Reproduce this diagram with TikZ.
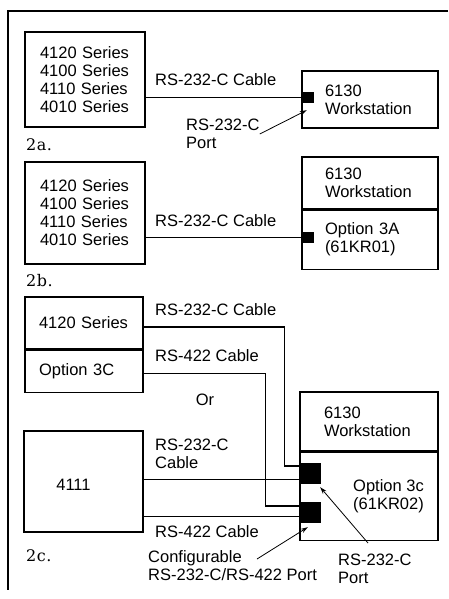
\documentclass[tikz,border=0pt]{standalone}
\usepackage{fontspec}
\newfontfamily\helv{Liberation Sans}
\newfontfamily\figfont[LetterSpace=3]{DejaVu Serif}
\usetikzlibrary{arrows.meta}
\tikzset{
  unitbox/.style={
    draw,
    rectangle,
    inner sep=0pt,
    line width=1.1pt,
    text width=90pt,
    align=left,
    font=\helv\fontsize{16.5}{18}\selectfont,
  },
  port/.style={
    fill=black,
    rectangle,
    inner sep=0pt,
  },
  cable/.style={line width=1.1pt},
  callout/.style={line width=0.8pt, -{Stealth[length=7pt,width=4.5pt]}},
  lbl/.style={
    inner sep=0pt,
    align=left,
    anchor=west,
    font=\helv\fontsize{16.5}{18}\selectfont,
  },
  figlbl/.style={inner sep=0pt, anchor=west, font=\figfont\fontsize{16}{18}\selectfont},
}
\begin{document}
\begin{tikzpicture}[x=1pt,y=-1pt]
  \useasboundingbox (0,0) rectangle (448,599);
  \draw[line width=1.1pt] (448,11) -- (8,11) -- (8,590);

  \node[unitbox, minimum width=120pt, minimum height=95pt] (seriesa) at (85,79.5) {4120 Series\\4100 Series\\4110 Series\\4010 Series};
  \node[unitbox, minimum width=136pt, minimum height=57pt] (wsa) at (370,99.5) {6130\\Workstation};
  \node[port, minimum size=11pt] (porta) at (308.5,97.5) {};
  \draw[cable] (seriesa.east |- porta.west) -- (porta.west);
  \node[lbl] (cablea) at (155,80) {RS-232-C Cable};
  \node[lbl] (porttexta) at (186,134) {RS-232-C\\Port};
  \draw[callout] (porttexta.east) -- ([xshift=4pt,yshift=-7pt]porta.south west);
  \node[figlbl] (figa) at (26,145) {2a.};

  \node[unitbox, minimum width=120pt, minimum height=102pt] (seriesb) at (85,213) {4120 Series\\4100 Series\\4110 Series\\4010 Series};
  \node[unitbox, minimum width=136pt, minimum height=52pt] (wsb) at (370,183) {6130\\Workstation};
  \node[unitbox, minimum width=136pt, minimum height=59pt, anchor=north] (optb) at (wsb.south) {Option 3A\\(61KR01)};
  \node[port, minimum size=11pt] (portb) at (308.5,237.5) {};
  \draw[cable] (seriesb.east |- portb.west) -- (portb.west);
  \node[lbl] (cableb) at (155,221) {RS-232-C Cable};
  \node[figlbl] (figb) at (26,281) {2b.};

  \node[unitbox, minimum width=118pt, minimum height=52pt] (seriesc) at (84,323) {4120 Series};
  \node[unitbox, minimum width=118pt, minimum height=42pt, anchor=north] (optc) at (seriesc.south) {Option 3C};
  \node[lbl, anchor=center] (orc) at (205,400) {Or};
  \node[unitbox, minimum width=119pt, minimum height=101pt] (unitc) at (83.5,481.5) {};
  \node[lbl, anchor=center] (unitctext) at (73.5,485) {4111};
  \node[unitbox, minimum width=138pt, minimum height=59pt] (wsc) at (369,421.5) {6130\\Workstation};
  \node[unitbox, minimum width=138pt, minimum height=88pt, anchor=north] (optc3) at (wsc.south) {};
  \node[lbl] (optc3text) at (353,496) {Option 3c\\(61KR02)};
  \node[port, minimum size=21pt] (portc1) at (310.5,473.5) {};
  \node[port, minimum size=21pt] (portc2) at (310.5,512.5) {};
  \draw[cable] ([yshift=-4pt]seriesc.east) -| ([xshift=-15pt,yshift=7.5pt]portc1.west) -- ([yshift=7.5pt]portc1.west);
  \draw[cable] ([yshift=-2pt]optc.east) -| ([xshift=-34pt,yshift=6.5pt]portc2.west) -- ([yshift=6.5pt]portc2.west);
  \draw[cable] ([yshift=-6pt]portc1.west) -- ([yshift=-6pt]portc1.west -| unitc.east);
  \draw[cable] ([yshift=-4pt]portc2.west) -- ([yshift=-4pt]portc2.west -| unitc.east);
  \node[lbl] (cablec1) at (155,310) {RS-232-C Cable};
  \node[lbl] (cablec2) at (155,356) {RS-422 Cable};
  \node[lbl] (cablec3) at (155,453.5) {RS-232-C\\Cable};
  \node[lbl] (cablec4) at (155,532) {RS-422 Cable};
  \node[lbl] (cfgport) at (148,566) {Configurable\\RS-232-C/RS-422 Port};
  \node[lbl] (porttextc) at (338,569) {RS-232-C\\Port};
  \coordinate (cfgtail) at (257,559);
  \coordinate (porttail) at (368,543);
  \draw[callout] (cfgtail) -- ([xshift=8pt,yshift=-4pt]portc2.south west);
  \draw[callout] (porttail) -- ([xshift=-1pt,yshift=-3pt]portc1.south east);
  \node[figlbl] (figc) at (26,556) {2c.};
\end{tikzpicture}
\end{document}
